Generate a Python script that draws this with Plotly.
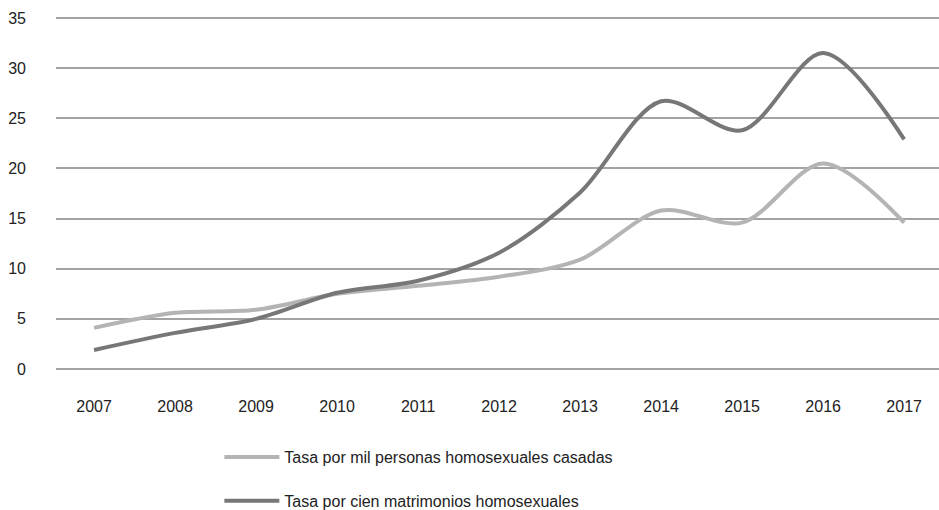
import plotly.graph_objects as go

years = ["2007", "2008", "2009", "2010", "2011", "2012",
         "2013", "2014", "2015", "2016", "2017"]
tasa_mil_casadas = [4.1, 5.6, 5.9, 7.5, 8.3, 9.2, 10.9, 15.8, 14.6, 20.5, 14.6]
tasa_cien_matrimonios = [1.9, 3.6, 5.0, 7.6, 8.8, 11.6, 17.6, 26.7, 23.8, 31.5, 22.9]
y_ticks = [0, 5, 10, 15, 20, 25, 30, 35]

FONT = "Liberation Sans, Arial, sans-serif"

fig = go.Figure()
fig.add_trace(go.Scatter(
    x=years, y=tasa_mil_casadas, mode="lines",
    name="Tasa por mil personas homosexuales casadas",
    line=dict(color="#b4b4b4", width=4, shape="spline", smoothing=0.9),
    legendgroup="a",
))
fig.add_trace(go.Scatter(
    x=years, y=tasa_cien_matrimonios, mode="lines",
    name="Tasa por cien matrimonios homosexuales",
    line=dict(color="#777777", width=4, shape="spline", smoothing=0.9),
    legendgroup="b",
))

# 0..35 spans pixels 369..18; pad the range so the edge gridlines are drawn
fig.update_layout(
    width=939, height=510,
    margin=dict(l=56, r=0, t=15, b=138),
    paper_bgcolor="white", plot_bgcolor="white",
    font=dict(family=FONT, size=16, color="#222222"),
    showlegend=True,
    legend=dict(
        orientation="v", x=0.185, xanchor="left",
        yref="container", y=1 - 440 / 510, yanchor="top", itemwidth=55,
        tracegroupgap=20, font=dict(size=16, color="#222222"),
        bgcolor="rgba(0,0,0,0)",
    ),
)
fig.update_xaxes(
    type="category", range=[-0.47, 10.43], automargin=False,
    showgrid=False, zeroline=False, showline=False,
    ticks="", ticklabelstandoff=23,
)
fig.update_yaxes(
    range=[-0.3, 35.3], tickvals=y_ticks, automargin=False,
    showgrid=True, gridcolor="#a3a3a3", gridwidth=2,
    zeroline=False, showline=False, ticks="", ticklabelstandoff=29,
)

# drop the default 8px body margin so the figure sits at the window's corner
fig.write_html("out.html", config={"displayModeBar": False},
               post_script="document.body.style.margin = '0';")
